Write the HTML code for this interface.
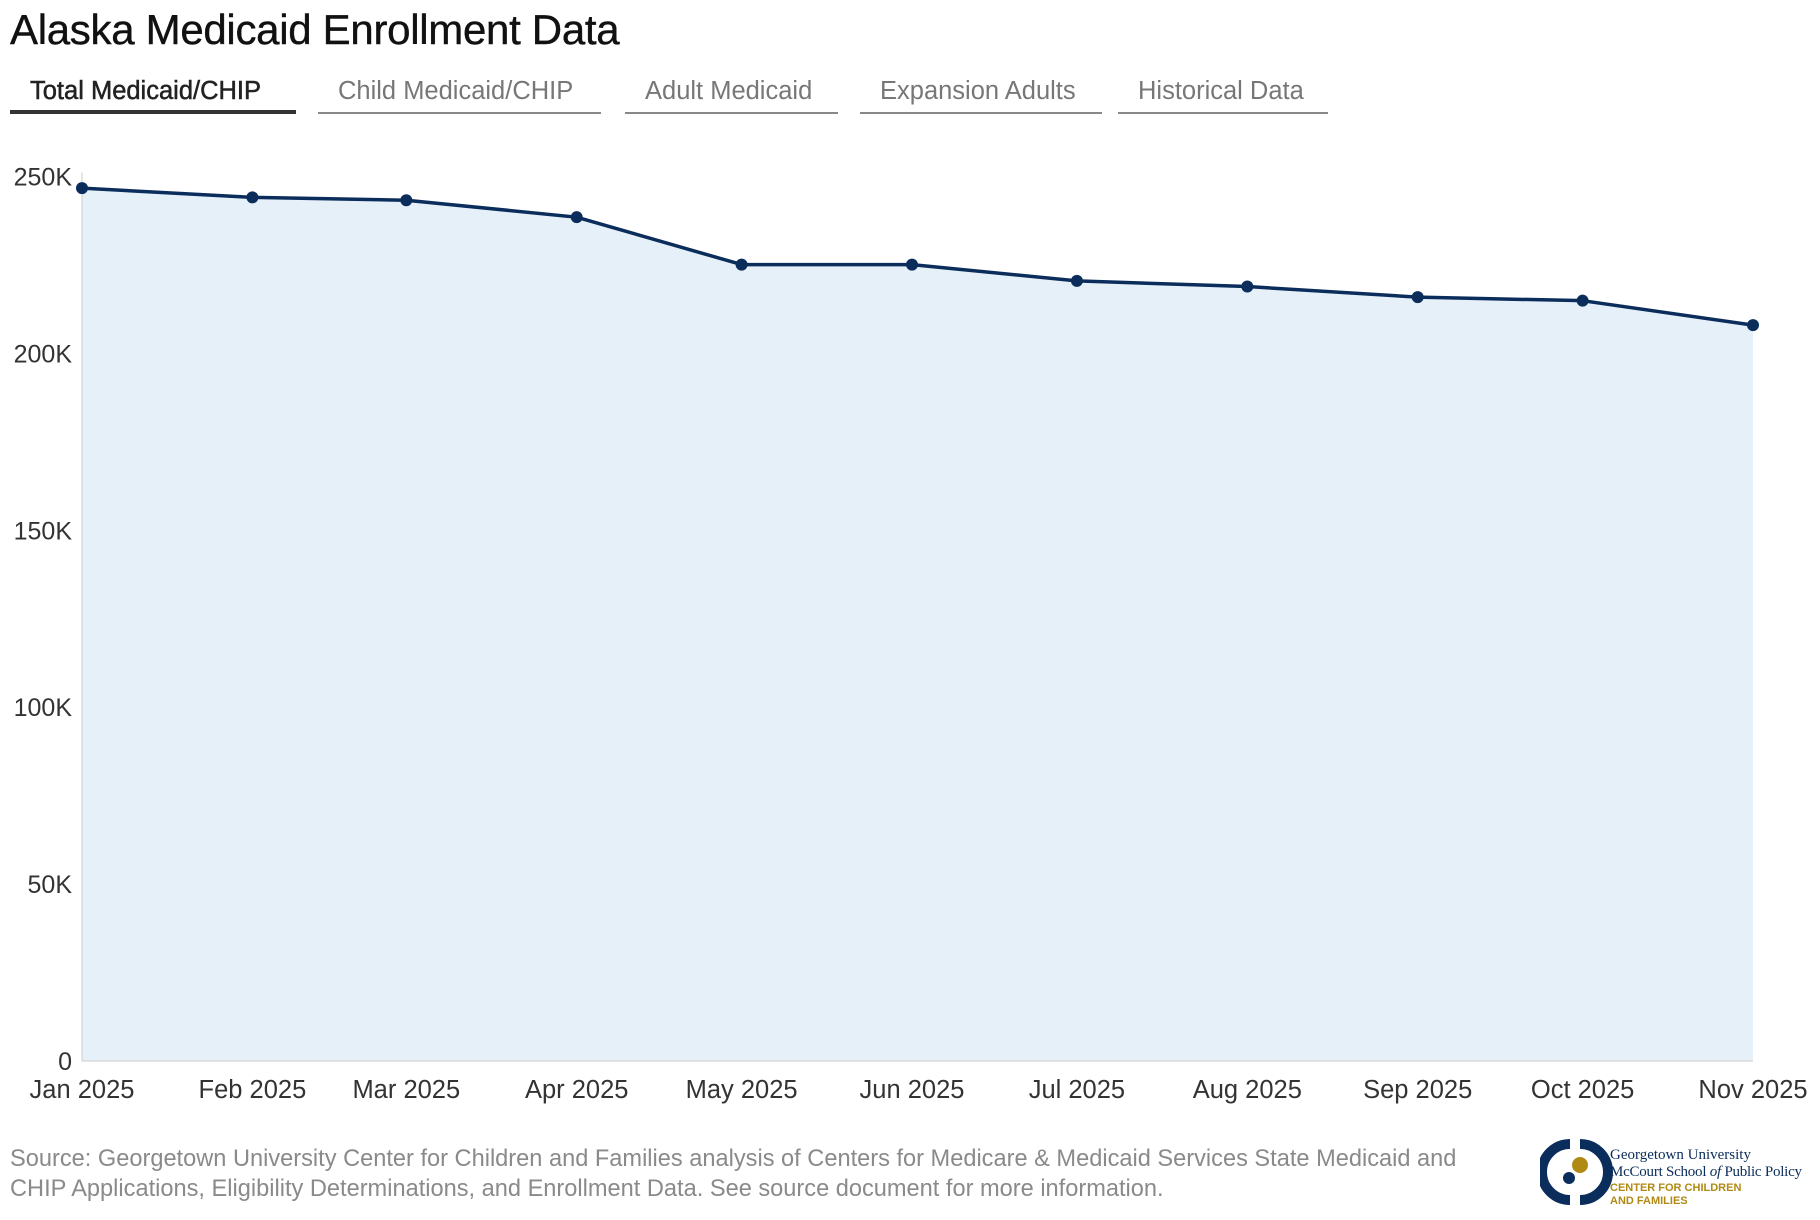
<!DOCTYPE html>
<html><head><meta charset="utf-8"><style>
body{margin:0;width:1820px;height:1220px;background:#fff;font-family:"Liberation Sans",Arial,sans-serif;overflow:hidden;position:relative}
.title{position:absolute;left:10px;top:6px;font-size:42px;color:#111;letter-spacing:-0.3px;-webkit-text-stroke:0.4px #111}
.tab{position:absolute;top:74px;height:40px;font-size:25.5px;color:#777;border-bottom:2px solid #888;line-height:34px;box-sizing:border-box;padding-left:20px;white-space:nowrap}
.tab.active{color:#222;border-bottom:4px solid #333;-webkit-text-stroke:0.5px #222}
.src{position:absolute;left:10px;top:1144px;font-size:23.6px;color:#8a8a8a;line-height:30px;width:1495px}
</style></head><body>
<div class="title">Alaska Medicaid Enrollment Data</div>
<div class="tab active" style="left:10px;width:286px">Total Medicaid/CHIP</div>
<div class="tab" style="left:318px;width:283px">Child Medicaid/CHIP</div>
<div class="tab" style="left:625px;width:213px">Adult Medicaid</div>
<div class="tab" style="left:860px;width:242px">Expansion Adults</div>
<div class="tab" style="left:1118px;width:210px">Historical Data</div>
<svg id="chart" width="1820" height="1220" style="position:absolute;left:0;top:0"></svg>
<div class="src">Source: Georgetown University Center for Children and Families analysis of Centers for Medicare &amp; Medicaid Services State Medicaid and<br>CHIP Applications, Eligibility Determinations, and Enrollment Data. See source document for more information.</div>
<svg style="position:absolute;left:1540px;top:1138px" width="280" height="70">
<path d="M30 6 A27 27 0 0 0 30 62" fill="none" stroke="#0b2d5b" stroke-width="10"/>
<path d="M40 6 A27 27 0 0 1 40 62" fill="none" stroke="#0b2d5b" stroke-width="10"/>
<circle cx="40" cy="27" r="8" fill="#b08a14"/><circle cx="29" cy="40" r="6" fill="#0b2d5b"/>
<text x="70" y="21" font-family="Liberation Serif,serif" font-size="15" fill="#0b2d5b">Georgetown University</text>
<text x="70" y="38" font-family="Liberation Serif,serif" font-size="15" fill="#0b2d5b" textLength="192">McCourt School <tspan font-style="italic">of</tspan> Public Policy</text>
<text x="70" y="53" font-size="11" font-weight="bold" fill="#b08a14">CENTER FOR CHILDREN</text>
<text x="70" y="66" font-size="11" font-weight="bold" fill="#b08a14">AND FAMILIES</text>
</svg>
<script>
const months=["2025-01-01","2025-02-01","2025-03-01","2025-04-01","2025-05-01","2025-06-01","2025-07-01","2025-08-01","2025-09-01","2025-10-01","2025-11-01"];
const monthLabels=["Jan 2025","Feb 2025","Mar 2025","Apr 2025","May 2025","Jun 2025","Jul 2025","Aug 2025","Sep 2025","Oct 2025","Nov 2025"];
const enrollment=[246700,244100,243300,238500,225100,225100,220500,218900,215900,214900,208000];
const yTicks=[0,50000,100000,150000,200000,250000];
const yTickLabels=["0","50K","100K","150K","200K","250K"];
const NS="http://www.w3.org/2000/svg",svg=document.getElementById("chart");
const X0=82,X1=1753,Y0=1061,Y1=176.5;
const t0=Date.parse(months[0]),t1=Date.parse(months[months.length-1]);
const x=d=>X0+(Date.parse(d)-t0)/(t1-t0)*(X1-X0);
const y=v=>Y0-v/250000*(Y0-Y1);
function mk(tag,a){const e=document.createElementNS(NS,tag);for(const k in a)e.setAttribute(k,a[k]);svg.appendChild(e);return e;}
let pts=months.map((m,i)=>x(m)+","+y(enrollment[i]));
const area=mk("path",{d:"M"+x(months[0])+","+Y0+" L"+pts.join(" L")+" L"+x(months[months.length-1])+","+Y0+"Z",fill:"#e5f0f9"});


const ax=mk("line",{x1:X0,x2:X0,y1:Y1-4,y2:Y0,stroke:"#ccc","stroke-width":1});


const bx=mk("line",{x1:X0,x2:X1,y1:Y0,y2:Y0,stroke:"#ccc","stroke-width":1});


yTicks.forEach((v,i)=>{const t=mk("text",{x:72,y:y(v)+9,"text-anchor":"end","font-size":25,fill:"#333"});t.textContent=yTickLabels[i];

});
months.forEach((m,i)=>{
const t=mk("text",{x:x(m),y:1098,"text-anchor":"middle","font-size":25.5,fill:"#333"});t.textContent=monthLabels[i];

});
const ln=mk("polyline",{points:pts.join(" "),fill:"none",stroke:"#0b2d5b","stroke-width":3.5,"stroke-linejoin":"round"});


months.forEach((m,i)=>{const c=mk("circle",{cx:x(m),cy:y(enrollment[i]),r:6,fill:"#0b2d5b"});

});
</script>
</body></html>
